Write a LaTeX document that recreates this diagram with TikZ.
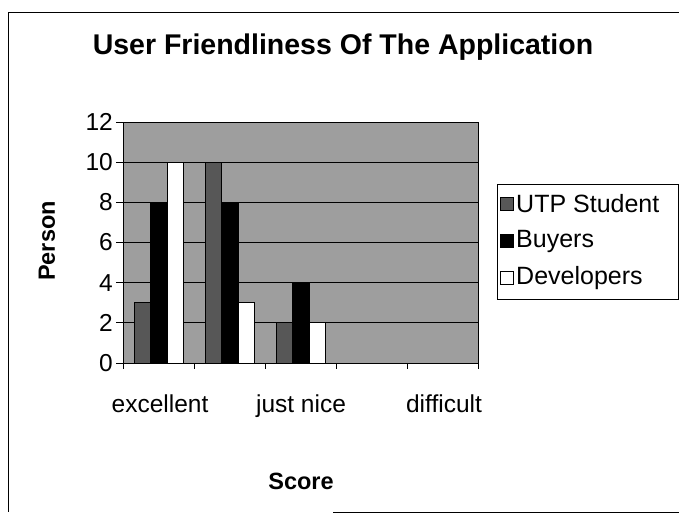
\documentclass[tikz,border=0pt]{standalone}
\usepackage{fontspec}
\setmainfont{Liberation Sans}
\definecolor{plotgray}{gray}{0.62}
\definecolor{utpgray}{gray}{0.34}
\begin{document}
\begin{tikzpicture}[x=1pt,y=-1pt,
  frame/.style={black,line width=0.8pt},
  gridline/.style={black,line width=1pt},
  barbox/.style={draw=black,line width=1pt},
  utpbar/.style={barbox,fill=utpgray},
  buyerbar/.style={barbox,fill=black},
  devbar/.style={barbox,fill=white},
  ticklabel/.style={font=\fontsize{24.5}{28}\selectfont,inner sep=0pt},
  axistitle/.style={font=\fontsize{23.5}{27}\selectfont\bfseries,inner sep=0pt},
  legtext/.style={font=\fontsize{25}{29}\selectfont,inner sep=0pt,anchor=west},
  legkey/.style={draw=black,line width=0.8pt,minimum size=13pt,inner sep=0pt}
]
\useasboundingbox (0,0) rectangle (679,519);

% outer chart border
\draw[frame] (679,12) -- (8,12) -- (8,512);
\draw[frame] (333,512) -- (679,512);

% title
\node[font=\fontsize{28.5}{33}\selectfont\bfseries,inner sep=0pt,anchor=base] (title) at (343,55) {User Friendliness Of The Application};

% plot area: x from 123 to 478 (5 categories of 71), y from 363 (0) to 122 (12)
\fill[plotgray] (123,122) rectangle (478,363);
\foreach \v in {2,4,...,12}
  \draw[gridline] (123,{363-20.08*\v}) -- (478,{363-20.08*\v});

% bars: UTP Student, Buyers, Developers per category
\foreach \c/\u/\b/\d in {0/3/8/10, 1/10/8/3, 2/2/4/2} {
  \pgfmathsetmacro{\xa}{123+71*\c+11.5}
  \draw[utpbar]   (\xa,363) rectangle ({\xa+16.3},{363-20.08*\u});
  \draw[buyerbar] ({\xa+16.3},363) rectangle ({\xa+32.6},{363-20.08*\b});
  \draw[devbar]   ({\xa+32.6},363) rectangle ({\xa+48.9},{363-20.08*\d});
}
\draw[gridline] (123,122) rectangle (478,363);

% value axis
\foreach \v in {0,2,...,12} {
  \draw[gridline] (116,{363-20.08*\v}) -- (123,{363-20.08*\v});
  \node[ticklabel,anchor=east] (ylab\v) at (113,{363-20.08*\v}) {\v};
}
% category axis
\foreach \i in {0,...,5}
  \draw[gridline] ({123+71*\i},363) -- ++(0,6);
\node[ticklabel,anchor=base] (xexc) at (160,412) {excellent};
\node[ticklabel,anchor=base] (xnice) at (301,412) {just nice};
\node[ticklabel,anchor=base] (xdiff) at (444,412) {difficult};

% axis titles
\node[axistitle] (xtitle) at (301,481) {Score};
\node[axistitle,rotate=90] (ytitle) at (47,241) {Person};

% legend
\draw[frame] (497,184) rectangle (678,299);
\node[legkey,fill=utpgray] (k1) at (507,204) {};
\node[legkey,fill=black] (k2) at (507,241) {};
\node[legkey,fill=white] (k3) at (507,278) {};
\node[legtext] (t1) at (516,204) {UTP Student};
\node[legtext] (t2) at (516,241) {Buyers};
\node[legtext] (t3) at (516,278) {Developers};
\end{tikzpicture}
\end{document}
